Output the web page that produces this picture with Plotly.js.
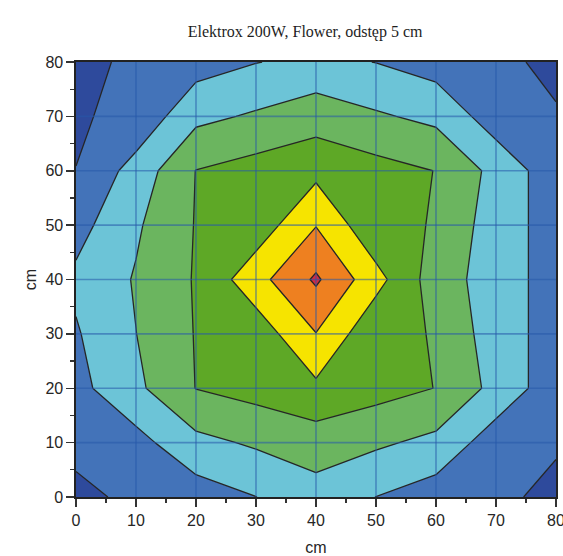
<!DOCTYPE html>
<html>
<head>
<meta charset="utf-8">
<script src="https://cdn.plot.ly/plotly-3.0.1.min.js"></script>
<style>
  html, body { margin: 0; padding: 0; background: #ffffff; }
  #chart { width: 563px; height: 556px; }
</style>
</head>
<body>
<div id="chart"></div>
<script>
// Measurement grid positions (cm)
const xPos = [0, 10, 20, 30, 40, 50, 60, 70, 80];
const yPos = [0, 10, 20, 30, 40, 50, 60, 70, 80];

// Light level at each grid point, one row per y position (y = 0 ... 80),
// expressed in contour-band units (band edges at 1, 2, ... 7)
const row0  = [0.65, 1.31, 1.493, 1.99, 2.593, 1.99, 1.487, 1.341, 0.6];
const row10 = [1.395, 1.661, 2.729, 3.136, 3.497, 3.164, 2.739, 1.457, 1.18];
const row20 = [1.692, 2.792, 4.02, 4.37, 4.786, 4.375, 3.98, 2.691, 1.411];
const row30 = [1.907, 2.99, 4.05, 4.41, 5.975, 4.2, 3.96, 2.437, 1.628];
const row40 = [2.2, 3.079, 4.08, 5.639, 7.15, 5.349, 3.5, 2.52, 1.557];
const row50 = [1.638, 2.865, 4.05, 4.41, 5.963, 4.2, 3.959, 2.437, 1.628];
const row60 = [1.01, 2.401, 4.02, 4.393, 4.728, 4.356, 3.98, 2.691, 1.411];
const row70 = [0.894, 1.255, 2.745, 3.127, 3.554, 3.126, 2.755, 1.479, 1.146];
const row80 = [0.496, 1.35, 1.562, 1.97, 2.266, 1.98, 1.557, 1.4, 0.6];

// Contour band edges
const levelStart = 1;
const levelEnd = 7;
const levelStep = 1;

// Band colours from lowest to highest
const bandColors = ['#2E4A9C', '#4373B9', '#6CC4D7', '#6BB55F', '#5EA826', '#F6E400', '#EE8020', '#D8283F'];

// Axis ticks
const tickVals = [0, 10, 20, 30, 40, 50, 60, 70, 80];
const tickText = ['0', '10', '20', '30', '40', '50', '60', '70', '80'];
const minorVals = [5, 15, 25, 35, 45, 55, 65, 75];

const zRows = [row0, row10, row20, row30, row40, row50, row60, row70, row80];

// Stepped colourscale: one flat colour per band
const nb = bandColors.length - 1;
const colorscale = [];
bandColors.forEach((c, i) => {
  colorscale.push([Math.max(0, (i - 0.5) / nb), c]);
  colorscale.push([Math.min(1, (i + 0.5) / nb), c]);
});

const trace = {
  type: 'contour',
  x: xPos,
  y: yPos,
  z: zRows,
  autocontour: false,
  contours: { start: levelStart, end: levelEnd, size: levelStep, coloring: 'fill', showlines: true },
  colorscale: colorscale,
  showscale: false,
  line: { color: '#262626', width: 1.3, smoothing: 0 },
  hoverinfo: 'x+y+z'
};

// Grid lines drawn over the filled bands
const inner = tickVals.slice(1, -1);
const gridStyle = { color: 'rgba(38, 88, 170, 0.55)', width: 1.6 };
const shapes = [];
inner.forEach(v => {
  shapes.push({ type: 'line', xref: 'x', yref: 'y', x0: v, x1: v, y0: yPos[0], y1: yPos[yPos.length - 1], line: gridStyle, layer: 'above' });
  shapes.push({ type: 'line', xref: 'x', yref: 'y', y0: v, y1: v, x0: xPos[0], x1: xPos[xPos.length - 1], line: gridStyle, layer: 'above' });
});

const tickFont = { family: 'Liberation Sans, Arial, sans-serif', size: 16, color: '#262626' };

const axisCommon = {
  range: [0, 80],
  tickmode: 'array',
  tickvals: tickVals,
  ticktext: tickText,
  ticks: 'outside',
  ticklen: 8,
  tickwidth: 1.5,
  tickcolor: '#333333',
  minor: { tickmode: 'array', tickvals: minorVals, ticks: 'outside', ticklen: 4, tickwidth: 1.3, tickcolor: '#333333' },
  showline: true,
  linecolor: '#222222',
  linewidth: 1.6,
  mirror: true,
  showgrid: false,
  zeroline: false,
  tickfont: tickFont,
  ticklabeloverflow: 'allow',
  fixedrange: true
};

const layout = {
  width: 563,
  height: 556,
  margin: { l: 76, r: 7, t: 62, b: 59 },
  paper_bgcolor: '#ffffff',
  plot_bgcolor: '#ffffff',
  title: {
    text: 'Elektrox 200W, Flower, odstęp 5 cm',
    font: { family: 'Liberation Serif, Times New Roman, serif', size: 16, color: '#1e1e1e' },
    xref: 'container', x: 0.542, xanchor: 'center',
    yref: 'container', y: 0.943, yanchor: 'middle'
  },
  xaxis: Object.assign({}, axisCommon, {
    title: { text: 'cm', font: { family: 'Liberation Sans, Arial, sans-serif', size: 16, color: '#262626' }, standoff: 15 }
  }),
  yaxis: Object.assign({}, axisCommon, {
    title: { text: 'cm', font: { family: 'Liberation Sans, Arial, sans-serif', size: 16, color: '#262626' }, standoff: 5 }
  }),
  shapes: shapes,
  showlegend: false
};

Plotly.newPlot('chart', [trace], layout, { displayModeBar: false, staticPlot: true });
</script>
</body>
</html>
